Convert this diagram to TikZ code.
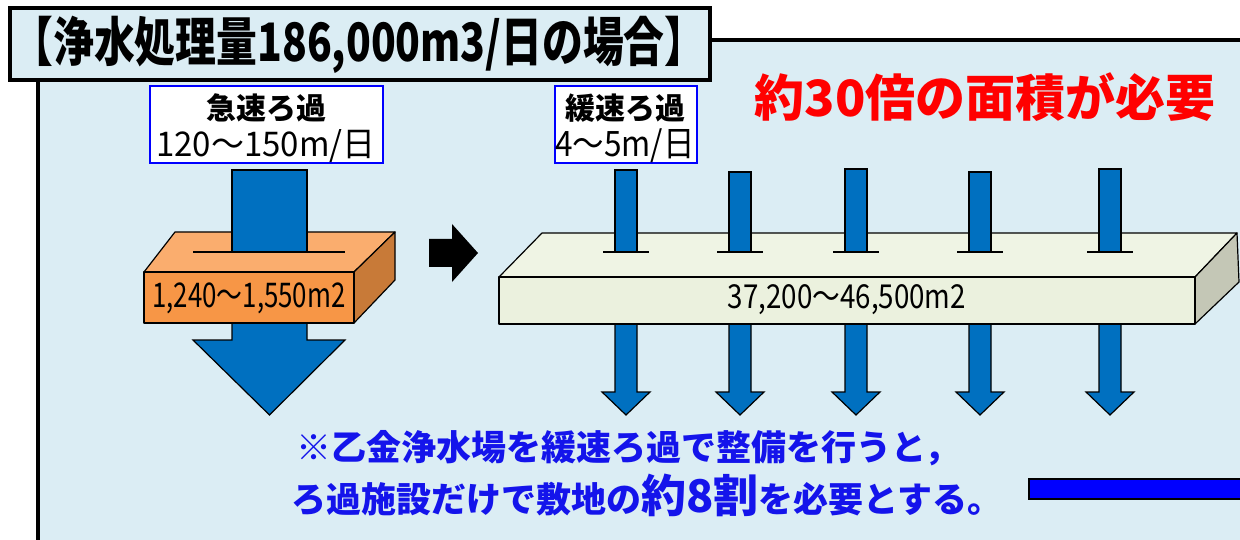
\documentclass[tikz,border=0pt]{standalone}
\usepackage{fontspec}
\setmainfont{Noto Sans CJK JP}
\usetikzlibrary{positioning}
\definecolor{panelblue}{RGB}{219,237,244}
\definecolor{flowblue}{RGB}{0,112,192}
\definecolor{boxfront}{RGB}{247,150,70}
\definecolor{boxtop}{RGB}{250,173,110}
\definecolor{boxside}{RGB}{200,122,56}
\definecolor{slabfront}{RGB}{235,241,222}
\definecolor{slabtop}{RGB}{239,244,228}
\definecolor{slabside}{RGB}{196,199,182}
\definecolor{notered}{RGB}{255,0,0}
\definecolor{noteblue}{RGB}{20,20,235}
\newcommand{\fs}[1]{\fontsize{#1}{#1}\selectfont}

\begin{document}
\begin{tikzpicture}[x=1pt, y=-1pt,
    frame/.style={fill=panelblue, draw=black, line width=4pt},
    labelbox/.style={draw=blue, line width=1.5pt, fill=white, inner sep=0pt},
    flow/.style={fill=flowblue, draw=black, line width=1.2pt},
    face/.style={draw=black, line width=1.2pt, line join=round},
    slot/.style={draw=black, line width=1.5pt}]
  \useasboundingbox (0,0) rectangle (1240,540);
  \draw[frame] (38,40) rectangle (1300,600);
  \draw[frame] (10,8) rectangle (710,80);
  \node[font=\fs{53}\bfseries, xscale=0.77] (title) at (359,45) {【浄水処理量186,000m3/日の場合】};

  % rapid filtration
  \node[labelbox, minimum width=233pt, minimum height=77pt] (rapidbox) at (266.5,124.5) {};
  \node[font=\fs{30}\bfseries] (rapid) at (266,108) {急速ろ過};
  \node[font=\fs{34}, xscale=0.97] (rapidrate) at (266,146) {120～150m/日};

  \filldraw[flow] (232,320) -- (307,320) -- (307,340) -- (345,340) -- (269.5,415)
    -- (193,340) -- (232,340) -- cycle;
  \filldraw[face, fill=boxtop] (144,272) -- (175,232) -- (395,232) -- (354,272) -- cycle;
  \filldraw[face, fill=boxside] (354,272) -- (395,232) -- (395,280) -- (354,323) -- cycle;
  \filldraw[face, fill=boxfront] (144,272) rectangle (354,323);
  \filldraw[flow] (232,170) rectangle (307,252);
  \draw[slot] (193,252) -- (345,252);
  \node[font=\fs{34}, xscale=0.76] (rapidarea) at (249,298) {1,240～1,550m2};

  \fill[black] (429,239) -- (452,239) -- (452,224) -- (478,253) -- (452,282)
    -- (452,267) -- (429,267) -- cycle;

  % slow filtration
  \node[labelbox, minimum width=142pt, minimum height=77pt] (slowbox) at (626,124.5) {};
  \node[font=\fs{30}\bfseries] (slow) at (625,108) {緩速ろ過};
  \node[font=\fs{35}, xscale=0.9] (slowrate) at (625,146) {4～5m/日};

  \foreach \cx in {626,740,856,980,1110}
    \filldraw[flow] (\cx-11,320) -- (\cx+11,320) -- (\cx+11,392) -- (\cx+24,392)
      -- (\cx,415) -- (\cx-24,392) -- (\cx-11,392) -- cycle;
  \filldraw[face, fill=slabtop] (499,277) -- (542,233) -- (1237,233) -- (1195,277) -- cycle;
  \filldraw[face, fill=slabside] (1195,277) -- (1237,233) -- (1239,282) -- (1195,324) -- cycle;
  \filldraw[face, fill=slabfront] (499,277) rectangle (1195,324);
  \foreach \cx/\cy in {626/170,740/172,856/169,980/172,1110/169} {
    \filldraw[flow] (\cx-11,\cy) rectangle (\cx+11,252);
    \draw[slot] (\cx-23,252) -- (\cx+23,252);
  }
  \node[font=\fs{33}, xscale=0.84] (slowarea) at (847,300) {37,200～46,500m2};

  \node[font=\fs{50}\bfseries, text=notered] (ratio) at (985,97) {約30倍の面積が必要};

  % note
  \node[font=\fs{35}\bfseries, text=noteblue] (note1) at (628,448)
    {※乙金浄水場を緩速ろ過で整備を行うと，};
  \node[font=\fs{35}\bfseries, text=noteblue, anchor=base] (note2) at (647,512)
    {ろ過施設だけで敷地の{\fs{45}約8割}を必要とする。};
  \filldraw[fill=blue, draw=black, line width=2pt] (1029,479) rectangle (1260,499);
\end{tikzpicture}
\end{document}
